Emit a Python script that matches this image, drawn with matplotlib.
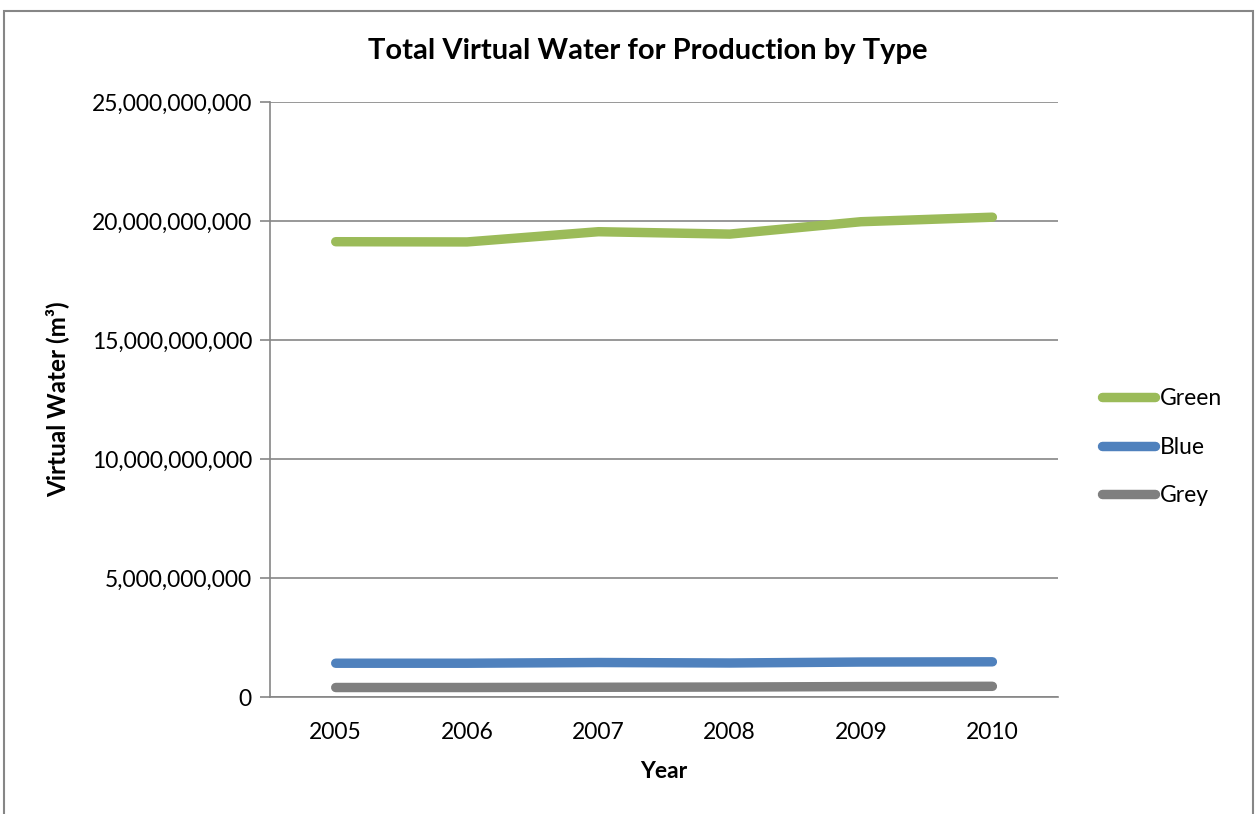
import matplotlib
matplotlib.use("Agg")
import matplotlib.pyplot as plt
from matplotlib.patches import Rectangle
from matplotlib.ticker import FuncFormatter

years = ["2005", "2006", "2007", "2008", "2009", "2010"]
green = [19.13e9, 19.12e9, 19.55e9, 19.45e9, 19.97e9, 20.16e9]
blue = [1.42e9, 1.42e9, 1.45e9, 1.43e9, 1.47e9, 1.48e9]
grey = [0.40e9, 0.40e9, 0.41e9, 0.42e9, 0.44e9, 0.45e9]

series = [("Green", green, "#9bbb59"), ("Blue", blue, "#4f81bd"), ("Grey", grey, "#7f7f7f")]

plt.rcParams["font.family"] = ["Lato", "DejaVu Sans"]

fig = plt.figure(figsize=(12.59, 8.14), dpi=100)
fig.patches.append(Rectangle((0.003, -0.05), 0.992, 1.037, transform=fig.transFigure,
                             fill=False, edgecolor="#868686", linewidth=1.5))

ax = fig.add_axes([0.2145, 0.1437, 0.6259, 0.7310])
x = list(range(len(years)))
for name, vals, col in series:
    ax.plot(x, vals, color=col, linewidth=6.8, solid_capstyle="round",
            solid_joinstyle="round", label=name)

ax.set_xlim(-0.5, len(years) - 0.5)
ax.set_ylim(0, 25e9)
ax.set_yticks([0, 5e9, 10e9, 15e9, 20e9, 25e9])
ax.yaxis.set_major_formatter(FuncFormatter(lambda v, p: f"{int(v):,}"))
ax.set_xticks(x)
ax.set_xticklabels(years)
ax.grid(axis="y", color="#868686", linewidth=1.2)
ax.set_axisbelow(True)
for s in ["top", "right"]:
    ax.spines[s].set_visible(False)
for s in ["left", "bottom"]:
    ax.spines[s].set_color("#868686")
    ax.spines[s].set_linewidth(1.2)
ax.tick_params(axis="y", length=7, width=1.2, color="#868686", labelsize=16.5, pad=6)
ax.tick_params(axis="x", length=0, labelsize=16.5, pad=18)

ax.set_xlabel("Year", fontsize=16.5, fontweight="bold", labelpad=13)
ax.set_ylabel("Virtual Water (m³)", fontsize=17.5, fontweight="bold", labelpad=16)
fig.text(0.5145, 0.937, "Total Virtual Water for Production by Type", ha="center",
         va="center", fontsize=21, fontweight="bold")

leg = ax.legend(loc="center left", bbox_to_anchor=(1.03, 0.42), frameon=False,
                fontsize=16.5, handlelength=2.3, handletextpad=0.2, labelspacing=1.2)

fig.savefig("out.png", dpi=100)
